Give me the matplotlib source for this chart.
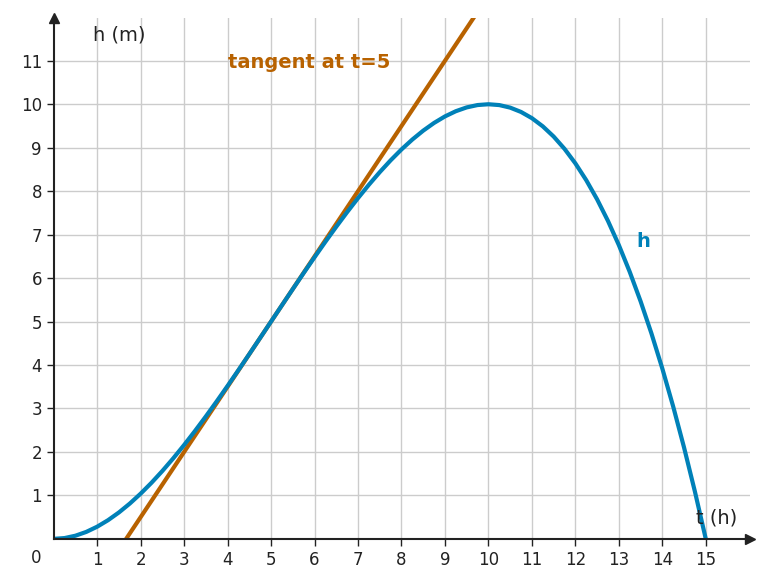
import matplotlib
matplotlib.use("Agg")
import matplotlib.pyplot as plt

t_vals = [0,0.25,0.5,0.75,1,1.25,1.5,1.75,2,2.25,2.5,2.75,3,3.25,3.5,3.75,4,4.25,4.5,4.75,5,
          5.25,5.5,5.75,6,6.25,6.5,6.75,7,7.25,7.5,7.75,8,8.25,8.5,8.75,9,9.25,9.5,9.75,10,
          10.25,10.5,10.75,11,11.25,11.5,11.75,12,12.25,12.5,12.75,13,13.25,13.5,13.75,14,14.25,14.5,14.75,15]
h_vals = [0,0.0184,0.0725,0.1603,0.28,0.4297,0.6075,0.8116,1.04,1.2909,1.5625,1.8528,2.16,2.4822,2.8175,3.1641,3.52,3.8834,4.2525,4.6253,5,
          5.3747,5.7475,6.1166,6.48,6.8359,7.1825,7.5178,7.84,8.1472,8.4375,8.7091,8.96,9.1884,9.3925,9.5703,9.72,9.8397,9.9275,9.9816,10,
          9.9809,9.9225,9.8228,9.68,9.4922,9.2575,8.9741,8.64,8.2534,7.8125,7.3153,6.76,6.1447,5.4675,4.7266,3.92,3.0459,2.1025,1.0878,0]
tan_t = [1.667, 9.667]
tan_h = [0.0, 12.0]
xticks = list(range(1, 16))
yticks = list(range(1, 12))

blue = "#0081b8"
orange = "#b86200"
fig = plt.figure(figsize=(7.67, 5.87), dpi=100)
ax = fig.add_axes([0.070, 0.082, 0.908, 0.887])
ax.set_xlim(0, 16.02)
ax.set_ylim(0, 11.98)
ax.set_xticks(xticks)
ax.set_yticks(yticks)
ax.grid(True, color="#cccccc", lw=1)
ax.set_axisbelow(True)
for s in ["top", "right"]:
    ax.spines[s].set_visible(False)
for s in ["left", "bottom"]:
    ax.spines[s].set_color("#222222")
    ax.spines[s].set_linewidth(1.5)
ax.tick_params(colors="#222222", labelsize=12, length=5, width=1)
ax.plot(1, 0, ">", color="#222222", transform=ax.transAxes, clip_on=False, ms=7)
ax.plot(0, 1, "^", color="#222222", transform=ax.transAxes, clip_on=False, ms=7)
ax.plot(tan_t, tan_h, color=orange, lw=3, clip_on=True)
ax.plot(t_vals, h_vals, color=blue, lw=3)
ax.text(-0.4, -0.45, "0", fontsize=12, color="#222222", ha="center", va="center")
ax.text(0.9, 11.6, "h (m)", fontsize=14, color="#222222", va="center")
ax.text(15.25, 0.48, "t (h)", fontsize=14, color="#222222", ha="center", va="center")
ax.text(4.0, 10.95, "tangent at t=5", fontsize=14, color=orange, fontweight="bold", va="center")
ax.text(13.4, 6.85, "h", fontsize=14, color=blue, fontweight="bold", va="center")
fig.savefig("out.png")
